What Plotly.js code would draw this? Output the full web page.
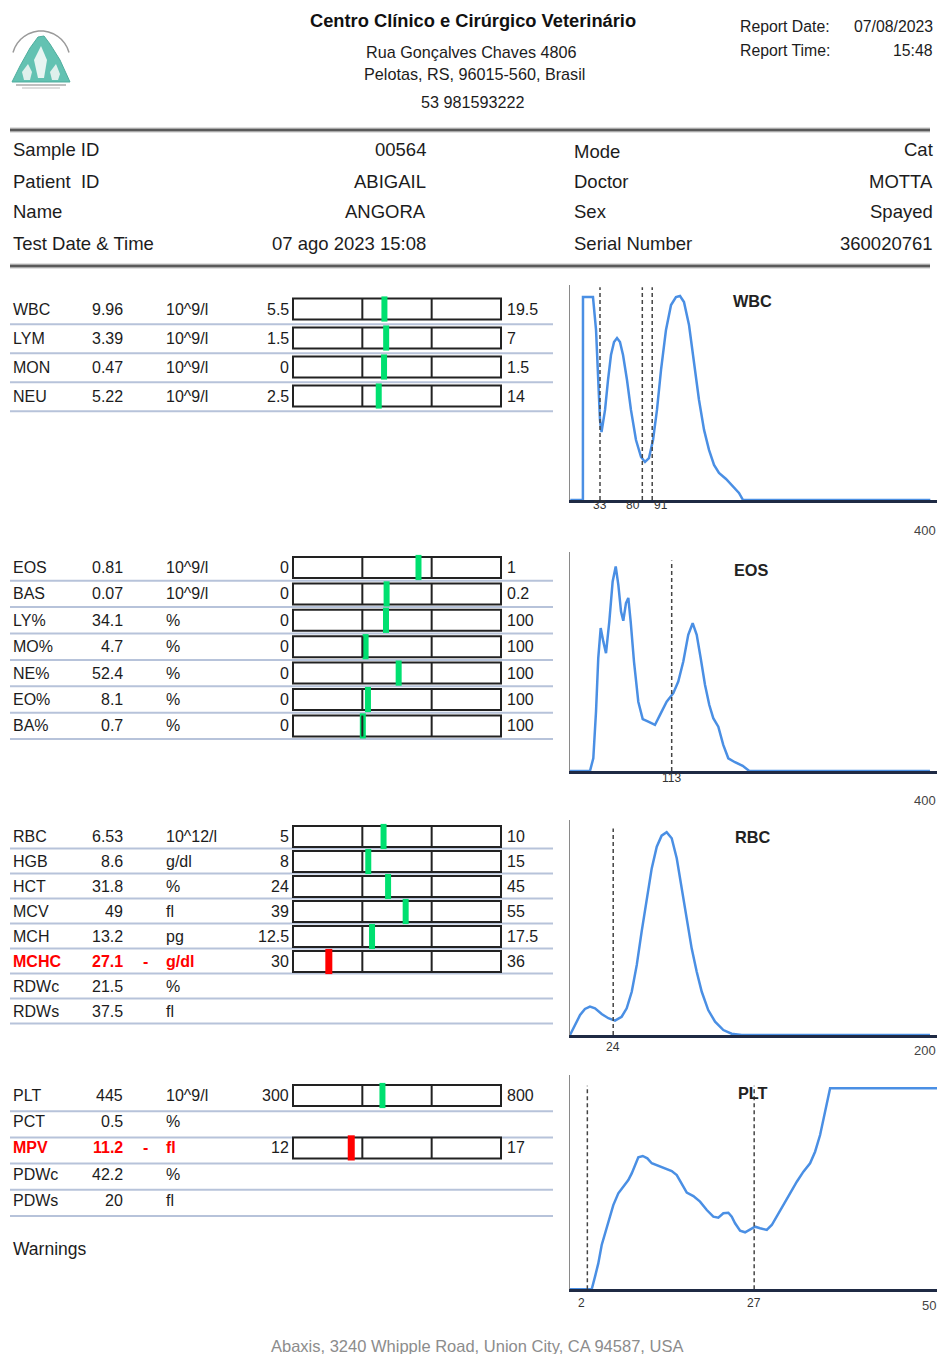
<!DOCTYPE html>
<html><head><meta charset="utf-8">
<script src="https://cdn.plot.ly/plotly-3.0.1.min.js"></script>
<style>html,body{margin:0;padding:0;background:#fff}#chart{width:937px;height:1354px}</style>
</head><body><div id="chart"></div>
<script>
// ---------------- DATA ----------------
const clinicName = 'Centro Clínico e Cirúrgico Veterinário';
const clinicAddress = ['Rua Gonçalves Chaves 4806', 'Pelotas, RS, 96015-560, Brasil', '53 981593222'];
const reportLabels = ['Report Date:', 'Report Time:'];
const reportValues = ['07/08/2023', '15:48'];
const infoLeftLabels = ['Sample ID', 'Patient\u00a0 ID', 'Name', 'Test Date & Time'];
const infoLeftValues = ['00564', 'ABIGAIL', 'ANGORA', '07 ago 2023 15:08'];
const infoRightLabels = ['Mode', 'Doctor', 'Sex', 'Serial Number'];
const infoRightValues = ['Cat', 'MOTTA', 'Spayed', '360020761'];

const wbcNames = ['WBC', 'LYM', 'MON', 'NEU'];
const wbcValues = [9.96, 3.39, 0.47, 5.22];
const wbcUnits = ['10^9/l', '10^9/l', '10^9/l', '10^9/l'];
const wbcLow = [5.5, 1.5, 0, 2.5];
const wbcHigh = [19.5, 7, 1.5, 14];

const eosNames = ['EOS', 'BAS', 'LY%', 'MO%', 'NE%', 'EO%', 'BA%'];
const eosValues = [0.81, 0.07, 34.1, 4.7, 52.4, 8.1, 0.7];
const eosUnits = ['10^9/l', '10^9/l', '%', '%', '%', '%', '%'];
const eosLow = [0, 0, 0, 0, 0, 0, 0];
const eosHigh = [1, 0.2, 100, 100, 100, 100, 100];

const rbcNames = ['RBC', 'HGB', 'HCT', 'MCV', 'MCH', 'MCHC', 'RDWc', 'RDWs'];
const rbcValues = [6.53, 8.6, 31.8, 49, 13.2, 27.1, 21.5, 37.5];
const rbcUnits = ['10^12/l', 'g/dl', '%', 'fl', 'pg', 'g/dl', '%', 'fl'];
const rbcLow = [5, 8, 24, 39, 12.5, 30, null, null];
const rbcHigh = [10, 15, 45, 55, 17.5, 36, null, null];

const pltNames = ['PLT', 'PCT', 'MPV', 'PDWc', 'PDWs'];
const pltValues = [445, 0.5, 11.2, 42.2, 20];
const pltUnits = ['10^9/l', '%', 'fl', '%', 'fl'];
const pltLow = [300, null, 12, null, null];
const pltHigh = [800, null, 17, null, null];

const wbcHistX = [0,14,14.1,25.2,28.6,30.8,33,34.7,38.6,41.9,45.2,48.6,51.9,55.2,58.6,63,67.4,73,78.6,83,87.4,91.9,96.3,100.8,106.3,111.9,117.4,121.9,126.3,131.9,137.4,143,148.6,154.1,159.7,165.2,173,180.8,187.4,191.9,400];
const wbcHistY = [0,0,94.4,94.4,79.1,55.8,37.2,31.6,41.9,55.8,67.4,73.5,75.3,73.5,67.4,55.8,41.9,27.9,20,17.7,19.5,27.9,41.9,60.5,79.1,90.7,94.4,94.9,92.1,81.4,65.1,46.5,32.6,23.3,16.3,12.6,9.8,6.5,3.3,0,0];
const wbcCuts = [33, 80, 91];

const eosHistX = [0,22.2,25.9,28.9,31.4,34.1,37,40,43.7,47.4,50.8,53.7,56.7,59.2,62.2,64.8,67.4,71.1,75.9,80.8,87,94.4,100,107.4,114.8,120.3,125.9,131.4,136.3,140.8,145.2,150,154.8,159.2,164.8,170.3,175.9,183.3,191.9,199.2,400];
const eosHistY = [0,0,5.8,27.1,51.5,65.2,59.1,53.7,68.2,86.4,93.3,84.9,72.7,68.5,76.6,78.9,68.2,49.9,31.6,23.7,22.5,21,25.6,31.6,35.5,40.8,49.9,62.1,67.4,62.1,51.5,39.3,30.1,24.1,20.2,11.9,5.8,4,2.4,0,0];
const eosCuts = [113];

const rbcHistX = [0,2.8,5.6,8.3,11.1,13.9,17.6,21.3,25,28.7,31.5,34.3,37.1,39.8,42.6,45.4,48.2,50.9,53.7,56.5,59.3,62.1,64.8,67.6,70.4,73.2,76.8,80.6,85.2,89.8,95.4,200];
const rbcHistY = [0,4.7,9.3,12.1,13.2,12.4,9.8,7.8,6.7,8.5,12.4,20.1,32.6,48.1,63.6,77.5,87.6,92.7,94.3,91.5,82.2,68.2,52.7,40.3,29.4,20.1,11.6,6.2,2.3,0.6,0,0];
const rbcCuts = [24];

const pltHistX = [-0.6,2.65,3.15,3.64,4.15,4.65,5.14,5.89,6.64,7.39,8.14,8.65,9.15,9.64,10.3,10.99,11.65,12.64,13.64,14.65,15.4,16.15,16.9,17.89,18.89,19.9,20.88,21.63,22.38,23.13,23.64,24.14,24.89,25.64,26.39,27.14,27.89,28.89,29.64,30.39,31.38,32.38,33.39,34.38,35.38,36.13,36.88,37.63,38.38,54.4];
const pltHistY = [0,0,5.9,12.1,20.7,26.1,32.3,39.3,44.8,47.9,51,54.1,58,61.6,62.2,61.1,58.8,57.5,56.5,55.2,53.3,49.5,45.1,43.5,40.9,37,33.9,33.4,35.5,35.7,33.9,30.8,27.3,26.6,28.1,29.2,28.5,27.7,30,33.9,39.3,44.8,50.2,54.9,58.8,64.2,72,82.9,93.8,93.8];
const pltCuts = [2, 27];

const histTitles = ['WBC', 'EOS', 'RBC', 'PLT'];
const histEndLabels = ['400', '400', '200', '50'];
const warningsLabel = 'Warnings';
const footerText = 'Abaxis, 3240 Whipple Road, Union City, CA 94587, USA';

// ---------------- LAYOUT HELPERS ----------------
const W = 937, H = 1354;
const X = px => px / W, Y = py => 1 - py / H;
const FONT = '"Liberation Sans", Arial, sans-serif';
const TXT = '#1c1c1c';
const RED = '#ff0000', GREEN = '#00e070', BLUE = '#4a8fe4';
const annotations = [], shapes = [], traces = [];
const layout = {
  width: W, height: H, margin: {l: 0, r: 0, t: 0, b: 0},
  paper_bgcolor: '#fff', plot_bgcolor: 'rgba(0,0,0,0)', showlegend: false,
  font: {family: FONT}
};
const shiftFor = a => (a === 'left' ? -2 : (a === 'right' ? 2 : 0));
function txt(text, x, y, size, anchor, color, extra) {
  anchor = anchor || 'left';
  annotations.push(Object.assign({
    text: text, x: X(x), y: Y(y), xref: 'paper', yref: 'paper', showarrow: false,
    xanchor: anchor, yanchor: 'middle', xshift: shiftFor(anchor),
    font: {family: FONT, size: size, color: color || TXT}
  }, extra || {}));
}
function pathPx(pts, close) {
  return pts.map((p, i) => (i ? 'L' : 'M') + X(p[0]).toFixed(5) + ',' + Y(p[1]).toFixed(5)).join(' ') + (close ? ' Z' : '');
}

// ---------------- HEADER ----------------
// logo (approximation)
const arc = [];
for (let a = 165; a >= 15; a -= 10) arc.push([41 + 29 * Math.cos(a * Math.PI / 180), 60 - 29 * Math.sin(a * Math.PI / 180)]);
shapes.push({type: 'path', xref: 'paper', yref: 'paper', path: pathPx(arc), line: {color: '#9a9a9a', width: 1.5}});
shapes.push({type: 'path', xref: 'paper', yref: 'paper', path: pathPx([[12,82],[20,66],[30,48],[38,37],[44,36],[50,44],[60,60],[70,82]], true), fillcolor: '#63c2b2', line: {color: '#4fae9e', width: 1}});
shapes.push({type: 'path', xref: 'paper', yref: 'paper', path: pathPx([[34,60],[41,46],[47,60],[44,78],[38,78]], true), fillcolor: '#e8f5f2', line: {width: 0}});
shapes.push({type: 'path', xref: 'paper', yref: 'paper', path: pathPx([[22,72],[28,64],[32,72],[30,80],[24,80]], true), fillcolor: '#dff0ec', line: {width: 0}});
shapes.push({type: 'path', xref: 'paper', yref: 'paper', path: pathPx([[50,72],[56,64],[60,74],[58,80],[52,80]], true), fillcolor: '#dff0ec', line: {width: 0}});
shapes.push({type: 'line', xref: 'paper', yref: 'paper', x0: X(16), x1: X(66), y0: Y(85), y1: Y(85), line: {color: '#aaa', width: 1.5}});
shapes.push({type: 'line', xref: 'paper', yref: 'paper', x0: X(22), x1: X(60), y0: Y(88), y1: Y(88), line: {color: '#bbb', width: 1}});

txt('<b>' + clinicName + '</b>', 473, 21, 18.3, 'center', '#111');
txt(clinicAddress[0], 471, 52, 16.2, 'center');
txt(clinicAddress[1], 474, 74, 16.2, 'center');
txt(clinicAddress[2], 473, 102, 16.2, 'center');
reportLabels.forEach((l, i) => {
  txt(l, 740, 26 + i * 24, 15.8, 'left');
  txt(reportValues[i], 933, 26 + i * 24, 15.8, 'right');
});

// thick separators
[130, 266].forEach(py => {
  shapes.push({type: 'line', xref: 'paper', yref: 'paper', x0: X(10), x1: X(930), y0: Y(py), y1: Y(py), line: {color: '#c4c4c4', width: 5}});
  shapes.push({type: 'line', xref: 'paper', yref: 'paper', x0: X(10), x1: X(930), y0: Y(py), y1: Y(py), line: {color: '#5a5a5a', width: 2.5}});
});

// info block
const infoRows = [150, 181, 211.5, 243];
infoLeftLabels.forEach((l, i) => {
  txt(l, 13, infoRows[i], 18.5, 'left');
  txt(infoLeftValues[i], 426, infoRows[i], 18.5, 'right');
  txt(infoRightLabels[i], 574, infoRows[i] + (i === 0 ? 2 : 0), 18.5, 'left');
  txt(infoRightValues[i], 933, infoRows[i], 18.5, 'right');
});

// ---------------- TABLE SECTIONS ----------------
const sections = [
  {names: wbcNames, values: wbcValues, units: wbcUnits, low: wbcLow, high: wbcHigh},
  {names: eosNames, values: eosValues, units: eosUnits, low: eosLow, high: eosHigh},
  {names: rbcNames, values: rbcValues, units: rbcUnits, low: rbcLow, high: rbcHigh},
  {names: pltNames, values: pltValues, units: pltUnits, low: pltLow, high: pltHigh}
];
const sectionLayout = [
  {first: 309, step: 29, sep: 0.53},
  {first: 567.5, step: 26.4, sep: 0.5},
  {first: 836.5, step: 25, sep: 0.48},
  {first: 1095.5, step: 26.2, sep: 0.6}
];
const TS = 16;
// gauge axis: reference range occupies the middle third
const gUnit = 208 / 3;
layout.xaxis = {domain: [X(293 - 0.05 * gUnit), X(501 + 0.05 * gUnit)], range: [-1.05, 2.05], anchor: 'y',
  showgrid: false, zeroline: false, showticklabels: false, showline: false, ticks: '', fixedrange: true};

sections.forEach((s, k) => {
  const L = sectionLayout[k];
  const n = s.names.length;
  const yname = k === 0 ? 'yaxis' : 'yaxis' + (k + 1);
  const yr = k === 0 ? 'y' : 'y' + (k + 1);
  const topPx = L.first - 0.7 * L.step, botPx = L.first + (n - 1 + 0.7) * L.step;
  layout[yname] = {domain: [Y(botPx), Y(topPx)], range: [n - 1 + 0.7, -0.7], anchor: 'x',
    showgrid: false, zeroline: false, showticklabels: false, showline: false, ticks: '', fixedrange: true};
  const xs = [], ys = [], cols = [], ws = [];
  const hh = 10.5 / L.step;
  s.names.forEach((nm, i) => {
    const v = s.values[i], lo = s.low[i], hi = s.high[i];
    const hasRange = lo !== null && lo !== undefined;
    const flag = hasRange ? (v < lo ? '-' : (v > hi ? '+' : '')) : '';
    const bad = flag !== '';
    const col = bad ? RED : TXT;
    const f = bad ? (t => '<b>' + t + '</b>') : (t => t);
    const cell = (text, px, anchor, color) => annotations.push({xref: 'paper', yref: yr, y: i, yanchor: 'middle', showarrow: false,
      text: text, x: X(px), xanchor: anchor, xshift: shiftFor(anchor), font: {family: FONT, size: TS, color: color}});
    cell(f(nm), 13, 'left', col);
    cell(f(String(v)), 123, 'right', col);
    if (bad) cell(f(flag), 145, 'center', col);
    cell(f(s.units[i]), 166, 'left', col);
    // separator line
    shapes.push({type: 'line', xref: 'paper', yref: yr, x0: X(10), x1: X(553), y0: i + L.sep, y1: i + L.sep, line: {color: '#b7c3da', width: 2}, layer: 'below'});
    if (hasRange) {
      cell(String(lo), 289, 'right', TXT);
      cell(String(hi), 507, 'left', TXT);
      shapes.push({type: 'rect', xref: 'x', yref: yr, x0: -1, x1: 2, y0: i - hh, y1: i + hh, fillcolor: '#fff', line: {color: '#222', width: 2}, layer: 'below'});
      [0, 1].forEach(d => shapes.push({type: 'line', xref: 'x', yref: yr, x0: d, x1: d, y0: i - hh, y1: i + hh, line: {color: '#222', width: 2}, layer: 'above'}));
      xs.push((v - lo) / (hi - lo)); ys.push(i); cols.push(bad ? RED : GREEN); ws.push(bad ? 7 : 6);
    }
  });
  traces.push({type: 'scatter', mode: 'markers', x: xs, y: ys, xaxis: 'x', yaxis: yr, cliponaxis: false, hoverinfo: 'skip',
    marker: {symbol: 'line-ns', size: 18, color: cols, line: {color: cols, width: ws}}});
});

txt(warningsLabel, 13, 1249, 17.5, 'left');
txt(footerText, 477, 1346, 16.5, 'center', '#8c8c8c');

// ---------------- HISTOGRAMS ----------------
const histograms = [
  {x: wbcHistX, y: wbcHistY, cuts: wbcCuts},
  {x: eosHistX, y: eosHistY, cuts: eosCuts},
  {x: rbcHistX, y: rbcHistY, cuts: rbcCuts},
  {x: pltHistX, y: pltHistY, cuts: pltCuts}
];
const histLayout = [
  {top: 285, bottom: 500, range: [-0.33, 407.4], title: [752.7, 301.5], cutPy: 505, cutAnchors: ['center', 'right', 'left'], end: [936, 530], dashTop: 99},
  {top: 551.7, bottom: 771, range: [0, 407.8], title: [751.7, 569.5], cutPy: 777.5, cutAnchors: ['center'], end: [936, 800], dashTop: 96},
  {top: 820, bottom: 1035, range: [0, 203.9], title: [753.3, 836.5], cutPy: 1046.5, cutAnchors: ['center'], end: [936, 1050], dashTop: 96},
  {top: 1075, bottom: 1289.3, range: [-0.6, 54.4], title: [753.3, 1092.5], cutPy: 1303, cutAnchors: ['right', 'center'], end: [936, 1305], dashTop: 95}
];
histograms.forEach((h, k) => {
  const L = histLayout[k];
  const xa = 'xaxis' + (k + 2), ya = 'yaxis' + (k + 5);
  const xr = 'x' + (k + 2), yr = 'y' + (k + 5);
  layout[xa] = {domain: [X(570), 1], range: L.range, anchor: yr, showline: true, linecolor: '#1f2a44', linewidth: 2.5,
    showgrid: false, zeroline: false, showticklabels: false, ticks: '', fixedrange: true};
  layout[ya] = {domain: [Y(L.bottom), Y(L.top)], range: [0, 100], anchor: xr, showline: true, linecolor: '#8a8a8a', linewidth: 1.5,
    showgrid: false, zeroline: false, showticklabels: false, ticks: '', fixedrange: true};
  traces.push({type: 'scatter', mode: 'lines', x: h.x, y: h.y, xaxis: xr, yaxis: yr, hoverinfo: 'skip',
    line: {color: BLUE, width: 2.5}});
  h.cuts.forEach((c, j) => {
    shapes.push({type: 'line', xref: xr, yref: yr, x0: c, x1: c, y0: 0, y1: L.dashTop, line: {color: '#444', width: 1.5, dash: '4px,3px'}});
    annotations.push({text: String(c), xref: xr, x: c, yref: 'paper', y: Y(L.cutPy), xanchor: L.cutAnchors[j], yanchor: 'middle', showarrow: false,
      font: {family: FONT, size: 12, color: '#333'}});
  });
  txt('<b>' + histTitles[k] + '</b>', L.title[0], L.title[1], 16.3, 'center', '#222');
  txt(histEndLabels[k], L.end[0], L.end[1], 13, 'right', '#444');
});

layout.annotations = annotations;
layout.shapes = shapes;
Plotly.newPlot('chart', traces, layout, {staticPlot: true, displayModeBar: false});
</script>
</body></html>
